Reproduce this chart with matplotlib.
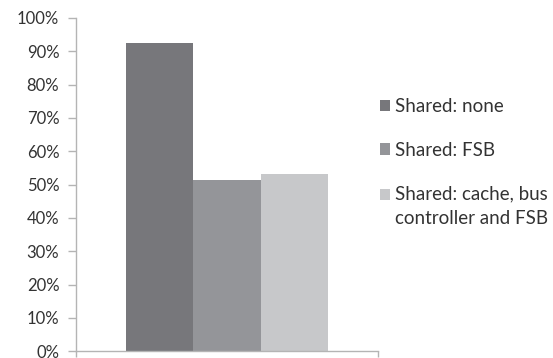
import matplotlib
matplotlib.use("Agg")
import matplotlib.pyplot as plt
from matplotlib.ticker import FuncFormatter
from matplotlib.legend_handler import HandlerPatch
from matplotlib.patches import Rectangle

# Share of runs per sharing configuration (percent)
series_labels = ["Shared: none", "Shared: FSB", "Shared: cache, bus\ncontroller and FSB"]
series_values = [92.5, 51.4, 53.2]
series_colors = ["#77777b", "#949599", "#c7c8ca"]
y_ticks = list(range(0, 101, 10))

plt.rcParams["font.family"] = ["Lato", "DejaVu Sans"]


class RaisedSquare(HandlerPatch):
    """Legend square lifted so it sits beside the first line of a wrapped label."""

    def __init__(self, dy, **kw):
        super().__init__(**kw)
        self.dy = dy

    def create_artists(self, legend, orig_handle, xdescent, ydescent,
                       width, height, fontsize, trans):
        p = Rectangle((-xdescent, -ydescent + self.dy), width, height)
        self.update_prop(p, orig_handle, legend)
        p.set_transform(trans)
        return [p]


fig = plt.figure(figsize=(5.53, 3.58), dpi=100)
ax = fig.add_axes([76 / 553, 1 - 351.3 / 358, (378.3 - 76) / 553, (351.3 - 18) / 358])

bar_w = 0.2235
handles = []
for i, (lab, val, col) in enumerate(zip(series_labels, series_values, series_colors)):
    bars = ax.bar((i - 1) * bar_w, val, width=bar_w, color=col, label=lab, zorder=2)
    handles.append(bars.patches[0])

ax.set_xlim(-0.5, 0.5)
ax.set_ylim(0, 100)
ax.set_yticks(y_ticks)
ax.yaxis.set_major_formatter(FuncFormatter(lambda v, p: f"{v:.0f}%"))
ax.set_xticks([-0.5, 0.5])
ax.set_xticklabels([])

axis_col = "#b4b4b4"
for s in ("top", "right"):
    ax.spines[s].set_visible(False)
for s in ("left", "bottom"):
    ax.spines[s].set_color(axis_col)
    ax.spines[s].set_linewidth(1.0)
ax.tick_params(axis="y", colors=axis_col, length=6, width=1.0, pad=6,
               labelcolor="#333333", labelsize=12)
ax.tick_params(axis="x", colors=axis_col, length=4, width=1.0)

leg = fig.legend(handles=handles, labels=series_labels, loc="upper left",
                 bbox_to_anchor=(380 / 553, 1 - 98 / 358), frameon=False,
                 fontsize=13.5, handlelength=0.55, handleheight=0.55,
                 handletextpad=0.25, labelspacing=1.42, borderaxespad=0,
                 borderpad=0,
                 handler_map={handles[2]: RaisedSquare(dy=8.4)})
for t in leg.get_texts():
    t.set_color("#333333")
    t.set_linespacing(1.55)

fig.savefig("out.png", dpi=100)
